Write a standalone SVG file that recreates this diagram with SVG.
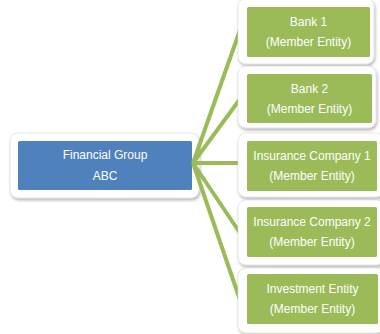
<svg xmlns="http://www.w3.org/2000/svg" width="380" height="334" viewBox="0 0 380 334">
<defs>
<filter id="sh" x="-10%" y="-10%" width="120%" height="130%">
<feDropShadow dx="1" dy="2" stdDeviation="1.6" flood-color="#000" flood-opacity="0.3"/>
</filter>
<style>
.frame{fill:#fff;stroke:#d8d8d8;stroke-width:0.6;filter:url(#sh)}
.blue{fill:#4f81bd}
.green{fill:#9bbb59}
.t{font-family:"Liberation Sans",Arial,sans-serif;font-size:12px;fill:#fff;text-anchor:middle}
.c{stroke:#9bbb59;stroke-width:4;fill:none;stroke-linecap:butt}
</style>
</defs>
<rect width="380" height="334" fill="#fff"/>
<g id="financial-group">
<rect class="frame" x="10" y="133" width="189" height="65" rx="8"/>
<rect class="blue" x="18" y="141" width="174" height="49" rx="1.5"/>
<text class="t" x="105" y="159">Financial Group</text>
<text class="t" x="105" y="180">ABC</text>
</g>
<g id="connectors">
<line class="c" x1="193" y1="163" x2="240" y2="30"/>
<line class="c" x1="193" y1="163" x2="240" y2="99"/>
<line class="c" x1="193" y1="163" x2="240" y2="163"/>
<line class="c" x1="193" y1="163" x2="240" y2="233"/>
<line class="c" x1="193" y1="163" x2="240" y2="300"/>
</g>
<g id="bank1">
<rect class="frame" x="238" y="-2" width="136" height="66" rx="8"/>
<rect class="green" x="247" y="7" width="123" height="50" rx="1.5"/>
<text class="t" x="308.5" y="26">Bank 1</text>
<text class="t" x="308.5" y="46">(Member Entity)</text>
</g>
<g id="bank2">
<rect class="frame" x="238" y="66" width="138" height="62" rx="8"/>
<rect class="green" x="247" y="74" width="125" height="49" rx="1.5"/>
<text class="t" x="309.5" y="93">Bank 2</text>
<text class="t" x="309.5" y="113">(Member Entity)</text>
</g>
<g id="insurance1">
<rect class="frame" x="238" y="133" width="146" height="64" rx="8"/>
<rect class="green" x="247" y="141" width="130" height="50" rx="1.5"/>
<text class="t" x="312" y="160">Insurance Company 1</text>
<text class="t" x="312" y="180">(Member Entity)</text>
</g>
<g id="insurance2">
<rect class="frame" x="238" y="200" width="146" height="65" rx="8"/>
<rect class="green" x="247" y="207" width="130" height="50" rx="1.5"/>
<text class="t" x="312" y="226">Insurance Company 2</text>
<text class="t" x="312" y="246">(Member Entity)</text>
</g>
<g id="investment">
<rect class="frame" x="238" y="268" width="146" height="65" rx="8"/>
<rect class="green" x="247" y="274" width="131" height="50" rx="1.5"/>
<text class="t" x="312.5" y="293">Investment Entity</text>
<text class="t" x="312.5" y="313">(Member Entity)</text>
</g>
</svg>
